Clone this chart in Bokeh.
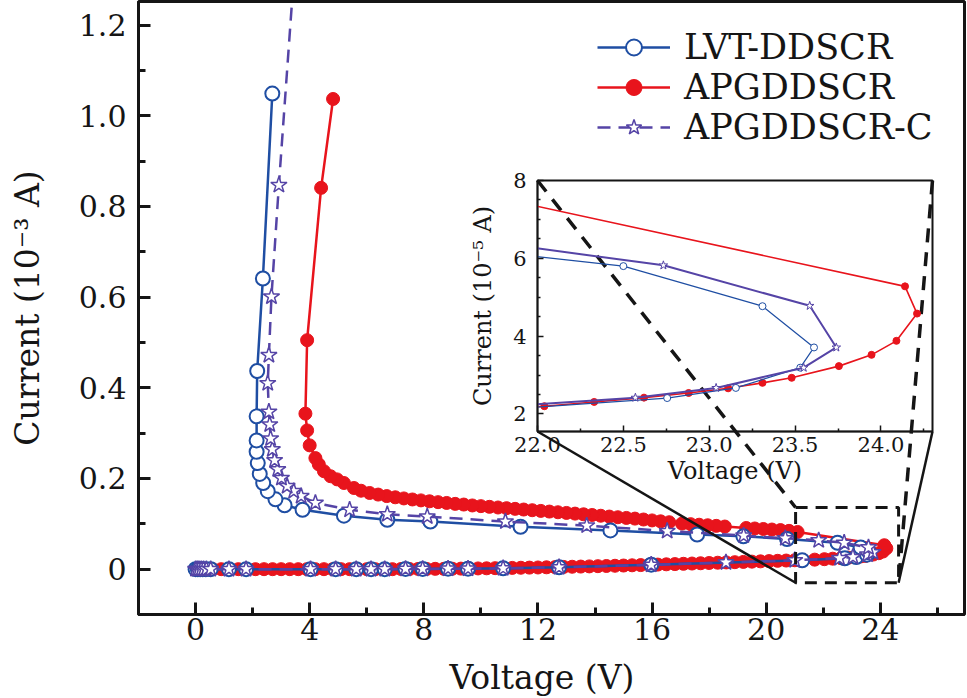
from bokeh.plotting import figure
from bokeh.models import FixedTicker, Legend, LegendItem, Range1d, Div
from bokeh.layouts import column
from bokeh.embed import file_html
from bokeh.resources import INLINE

# ---------------- data (voltage in V, current in 10^-3 A) ----------------
lvt_v = [0.00, 0.08, 0.16, 0.25, 0.36, 0.53, 1.17, 1.77, 4.03, 4.91, 5.63, 6.15, 6.63,
         7.36, 7.96, 8.85, 9.55, 10.78, 12.74, 15.97, 21.26, 22.755, 23.155, 23.53, 23.61,
         23.31, 22.50, 20.73, 19.20, 17.58, 14.54, 11.39, 8.23, 6.72, 5.20, 3.75, 3.12,
         2.80, 2.53, 2.37, 2.25, 2.18, 2.14, 2.14, 2.14, 2.16, 2.36, 2.69]
lvt_i = [0.0, 0.0, 0.0, 0.0, 0.0, 0.0, 0.0, 0.0, 0.0, 0.0, 0.0, 0.0, 0.0,
         0.0005, 0.0005, 0.001, 0.001, 0.002, 0.004, 0.010, 0.0195, 0.0241, 0.0267, 0.0319, 0.0371,
         0.0477, 0.0580, 0.0665, 0.0725, 0.0765, 0.0855, 0.0935, 0.105, 0.109, 0.118, 0.131, 0.141,
         0.154, 0.172, 0.190, 0.210, 0.234, 0.259, 0.284, 0.337, 0.437, 0.641, 1.049]

apgc_v = [0.00, 0.06, 0.12, 0.20, 0.28, 0.38, 0.53, 1.17, 1.77, 4.03, 4.91, 5.63, 6.15, 6.63,
          7.36, 7.96, 8.85, 9.55, 10.78, 12.74, 15.97, 18.59, 21.00, 22.57, 23.04, 23.55, 23.74,
          23.585, 22.733, 21.84, 20.67, 19.21, 16.53, 13.71, 10.86, 8.12, 6.72, 5.40, 4.20,
          3.70, 3.44, 3.21, 3.01, 2.88, 2.77, 2.69, 2.63, 2.60, 2.57, 2.53, 2.57, 2.66, 2.92, 3.55]
apgc_i = [0.0, 0.0, 0.0, 0.0, 0.0, 0.0, 0.0, 0.0, 0.0, 0.0, 0.0, 0.0, 0.0, 0.0,
          0.0005, 0.0005, 0.001, 0.001, 0.002, 0.004, 0.0095, 0.0148, 0.0196, 0.0242, 0.0267, 0.0319, 0.0371,
          0.0478, 0.0582, 0.0635, 0.0680, 0.0740, 0.0840, 0.0960, 0.105, 0.116, 0.121, 0.131, 0.146,
          0.161, 0.172, 0.183, 0.201, 0.220, 0.240, 0.264, 0.288, 0.319, 0.347, 0.410, 0.472, 0.601, 0.847, 1.40]

apg_v = [0.0, 0.3, 0.6, 0.9, 1.2, 1.5, 1.8, 2.1, 2.4, 2.7, 3.0, 3.3, 3.6, 3.9, 4.2, 4.5, 4.8,
         5.1, 5.4, 5.7, 6.0, 6.3, 6.6, 6.9, 7.2, 7.5, 7.8, 8.1, 8.4, 8.7, 9.0, 9.3, 9.6, 9.9,
         10.2, 10.5, 10.8, 11.1, 11.4, 11.7, 12.0, 12.3, 12.6, 12.9, 13.2, 13.5, 13.8, 14.1,
         14.4, 14.7, 15.0, 15.3, 15.6, 15.9, 16.2, 16.5, 16.8, 17.1, 17.4, 17.7, 18.0, 18.3,
         18.6, 18.9, 19.2, 19.5, 19.8, 20.1, 20.4, 20.7, 21.0, 21.3, 21.7,
         22.04, 22.33, 22.62, 22.88, 23.11, 23.31, 23.48, 23.755, 23.945, 24.09, 24.21, 24.14,
         21.1, 20.8, 20.5, 20.2, 19.9, 19.6, 19.3, 18.55, 18.25, 17.95, 17.65, 17.35, 17.05,
         16.6, 16.3, 16.0, 15.7, 15.4, 15.1, 14.8, 14.5, 14.2, 13.9, 13.6, 13.3, 13.0, 12.7,
         12.4, 12.1, 11.8, 11.5, 11.2, 10.9, 10.6, 10.3, 10.0, 9.7, 9.4, 9.1, 8.8, 8.5, 8.2,
         7.9, 7.6, 7.3, 7.0, 6.7, 6.4, 6.1, 5.8, 5.55, 5.20, 4.96, 4.73, 4.50, 4.32, 4.20,
         4.00, 3.91, 3.85, 3.91, 4.40, 4.82]
apg_i = [0.0, 0.0, 0.0, 0.0, 0.0, 0.0, 0.0, 0.0, 0.0, 0.0, 0.0, 0.0, 0.0, 0.0, 0.0, 0.0, 0.0,
         0.0, 0.0, 0.0, 0.0, 0.0, 0.0, 0.0, 0.0003, 0.0003, 0.0005, 0.0005, 0.0007, 0.0008, 0.0010,
         0.0012, 0.0014, 0.0016, 0.0019, 0.0022, 0.0025, 0.0028, 0.0031, 0.0034, 0.0037, 0.0041,
         0.0045, 0.0049, 0.0053, 0.0057, 0.0061, 0.0066, 0.0070, 0.0075, 0.0080, 0.0085, 0.0090,
         0.0096, 0.0101, 0.0107, 0.0112, 0.0118, 0.0124, 0.0130, 0.0136, 0.0142, 0.0148, 0.0154,
         0.0160, 0.0166, 0.0172, 0.0178, 0.0184, 0.0190, 0.0196, 0.0202, 0.0210,
         0.0220, 0.0231, 0.0242, 0.0254, 0.0266, 0.0280, 0.0293, 0.0323, 0.0352, 0.0388, 0.0458, 0.0528,
         0.0820, 0.0845, 0.0862, 0.0874, 0.0886, 0.0897, 0.0908, 0.0940, 0.0955, 0.0968, 0.0980,
         0.0993, 0.1005, 0.1035, 0.1055, 0.1075, 0.1095, 0.1115, 0.1130, 0.1145, 0.1160, 0.1178,
         0.1195, 0.1210, 0.1225, 0.1240, 0.1255, 0.1270, 0.1285, 0.1300, 0.1315, 0.1330, 0.1345,
         0.1360, 0.1375, 0.1390, 0.1405, 0.1425, 0.1440, 0.1460, 0.1478, 0.1497, 0.1517, 0.1537,
         0.1560, 0.1585, 0.1612, 0.1645, 0.1680, 0.1730, 0.1790, 0.190, 0.198, 0.205, 0.216,
         0.231, 0.245, 0.273, 0.306, 0.343, 0.505, 0.841, 1.037]

x_ticks = [0, 4, 8, 12, 16, 20, 24]
x_minor = [2, 6, 10, 14, 18, 22, 26]
y_ticks = [0, 0.2, 0.4, 0.6, 0.8, 1.0, 1.2]
y_minor = [0.1, 0.3, 0.5, 0.7, 0.9, 1.1]
ix_ticks = [22.0, 22.5, 23.0, 23.5, 24.0]
ix_minor = [22.25, 22.75, 23.25, 23.75, 24.25]
iy_ticks = [2, 4, 6, 8]
iy_minor = [2.5, 3, 3.5, 4.5, 5, 5.5, 6.5, 7, 7.5]
zoom_box_v = [21.03, 24.64]
zoom_box_i = [-0.03, 0.136]

# ---------------- styling / layout ----------------
FONT = "DejaVu Serif"
INK = "#151515"
BLUE = "#1f4ea3"
RED = "#e8141c"
PURPLE = "#5544a6"

W, H = 967, 698
FL, FR, FT, FB = 138, 964, 1, 614          # main frame (px)
X0, X1, Y0, Y1 = -2.0, 26.95, -0.1, 1.252  # main ranges
IL, IR, IT, IB = 537, 932, 180, 431         # inset frame (px)
# column layouts align plot frames: give the inset the same side borders as the main plot
BL, BR = FL, W - FR
IFL, IFR = IL - BL, IR + BR
IFT, IFB = 165, 492
XT_W, XT_H, XT_CX, XT_CY = 300, 38, 542, 678  # x-axis title box (px)

p = figure(width=W, height=H, output_backend="svg", toolbar_location=None,
           x_range=Range1d(X0, X1), y_range=Range1d(Y0, Y1),
           min_border_left=BL, min_border_right=BR,
           min_border_top=FT, min_border_bottom=H - FB)
p.background_fill_color = "white"
p.border_fill_color = "white"
p.outline_line_color = INK
p.outline_line_width = 3
p.grid.visible = False


def style_axis(ax, font_size, label_size, lw, tin, tmin):
    ax.axis_line_color = INK
    ax.axis_line_width = lw
    ax.major_tick_line_color = INK
    ax.major_tick_line_width = lw
    ax.minor_tick_line_color = INK
    ax.minor_tick_line_width = lw
    ax.major_tick_in = tin
    ax.major_tick_out = 0
    ax.minor_tick_in = tmin
    ax.minor_tick_out = 0
    ax.major_label_text_font = FONT
    ax.major_label_text_font_size = font_size
    ax.major_label_text_color = INK
    ax.axis_label_text_font = FONT
    ax.axis_label_text_font_size = label_size
    ax.axis_label_text_font_style = "normal"
    ax.axis_label_text_color = INK


def mx(px):
    return X0 + (px - FL) * (X1 - X0) / (FR - FL)


def my(py):
    return Y0 + (FB - py) * (Y1 - Y0) / (FB - FT)


style_axis(p.xaxis[0], "30px", "33px", 3, 12, 7)
style_axis(p.yaxis[0], "30px", "33px", 3, 12, 7)
p.xaxis.ticker = FixedTicker(ticks=x_ticks, minor_ticks=x_minor)
p.yaxis.ticker = FixedTicker(ticks=y_ticks, minor_ticks=y_minor)
p.yaxis.major_label_overrides = {0: "0", 0.2: "0.2", 0.4: "0.4", 0.6: "0.6",
                                 0.8: "0.8", 1.0: "1.0", 1.2: "1.2"}
p.yaxis.axis_label = "Current (10\u207b\u00b3 A)"
p.xaxis.major_label_standoff = 3
p.yaxis.major_label_standoff = 12
p.yaxis.axis_label_standoff = 29

# series in main plot
r_line = p.line(apg_v, apg_i, line_color=RED, line_width=2.5)
r_pts = p.scatter(apg_v, apg_i, marker="circle", size=13, fill_color=RED, line_color=RED)
b_line = p.line(lvt_v, lvt_i, line_color=BLUE, line_width=2.5)
b_pts = p.scatter(lvt_v, lvt_i, marker="circle", size=14, fill_color="white",
                  line_color=BLUE, line_width=2)
c_line = p.line(apgc_v, apgc_i, line_color=PURPLE, line_width=2.5, line_dash="13 8")
c_pts = p.scatter(apgc_v, apgc_i, marker="star", size=17, fill_color="white",
                  line_color=PURPLE, line_width=1.5)

# zoom indicator box and connector lines
zx0, zx1 = zoom_box_v
zy0, zy1 = zoom_box_i
p.line([zx0, zx1, zx1, zx0, zx0], [zy1, zy1, zy0, zy0, zy1], line_color=INK,
       line_width=3, line_dash="12 8")
p.line([mx(IL), zx0], [my(IT), zy1], line_color=INK, line_width=3.5, line_dash="14 10")
p.line([mx(IR), zx1], [my(IT), zy0], line_color=INK, line_width=3.5, line_dash="14 10")
p.line([mx(IL), zx0], [my(IB), zy0], line_color=INK, line_width=2.5)
p.line([mx(IR), zx1], [my(IB), zy0], line_color=INK, line_width=2.5)

legend = Legend(items=[LegendItem(label="LVT-DDSCR", renderers=[b_line, b_pts]),
                       LegendItem(label="APGDDSCR", renderers=[r_line, r_pts]),
                       LegendItem(label="APGDDSCR-C", renderers=[c_line, c_pts])],
                location=(597 - FL, FB - 147), orientation="vertical",
                padding=0, margin=0, spacing=0,
                glyph_width=73, glyph_height=40, label_height=40, label_standoff=14,
                label_text_font=FONT, label_text_font_size="35px", label_text_color=INK,
                border_line_alpha=0, background_fill_alpha=0)
p.add_layout(legend)

# ---------------- inset ----------------
ins = figure(width=IFR - IFL, height=IFB - IFT, output_backend="svg", toolbar_location=None,
             x_range=Range1d(22.0, 24.3), y_range=Range1d(1.55, 8.0),
             min_border_left=BL, min_border_right=BR,
             min_border_top=IT - IFT, min_border_bottom=IFB - IB)
ins.background_fill_alpha = 0
ins.border_fill_alpha = 0
ins.outline_line_color = INK
ins.outline_line_width = 2
ins.grid.visible = False
style_axis(ins.xaxis[0], "21px", "24px", 1.5, 6, 3)
style_axis(ins.yaxis[0], "21px", "24px", 1.5, 6, 3)
ins.xaxis.ticker = FixedTicker(ticks=ix_ticks, minor_ticks=ix_minor)
ins.yaxis.ticker = FixedTicker(ticks=iy_ticks, minor_ticks=iy_minor)
ins.xaxis.major_label_overrides = {22.0: "22.0", 22.5: "22.5", 23.0: "23.0",
                                   23.5: "23.5", 24.0: "24.0"}
ins.xaxis.axis_label = "Voltage (V)"
ins.yaxis.axis_label = "Current (10\u207b\u2075 A)"
ins.xaxis.major_label_standoff = 5
ins.xaxis.axis_label_standoff = 2
ins.yaxis.major_label_standoff = 11
ins.yaxis.axis_label_standoff = 13

to5 = 100.0  # 10^-3 A -> 10^-5 A
ins.line(apg_v, [v * to5 for v in apg_i], line_color=RED, line_width=1.6)
ins.scatter(apg_v, [v * to5 for v in apg_i], marker="circle", size=7, fill_color=RED,
            line_color=RED)
ins.line(lvt_v, [v * to5 for v in lvt_i], line_color=BLUE, line_width=1.2)
ins.scatter(lvt_v, [v * to5 for v in lvt_i], marker="circle", size=7, fill_color="white",
            line_color=BLUE, line_width=1)
ins.line(apgc_v, [v * to5 for v in apgc_i], line_color=PURPLE, line_width=2)
ins.scatter(apgc_v, [v * to5 for v in apgc_i], marker="star", size=9, fill_color="white",
            line_color=PURPLE, line_width=1)

ins.margin = (IFT - H, 0, 0, IFL)

# main x-axis title (HTML text placed under the tick labels)
xtitle = Div(text=('<div style="font-family: \'DejaVu Serif\'; font-size: 33px; '
                   'color: %s; text-align: center; line-height: %dpx; width: %dpx; '
                   'white-space: nowrap;">Voltage (V)</div>') % (INK, XT_H, XT_W),
             width=XT_W, height=XT_H,
             margin=(XT_CY - XT_H // 2 - IFB, 0, 0, XT_CX - XT_W // 2))

layout = column(p, ins, xtitle, spacing=0)
open("out.html", "w").write(file_html(layout, INLINE))
